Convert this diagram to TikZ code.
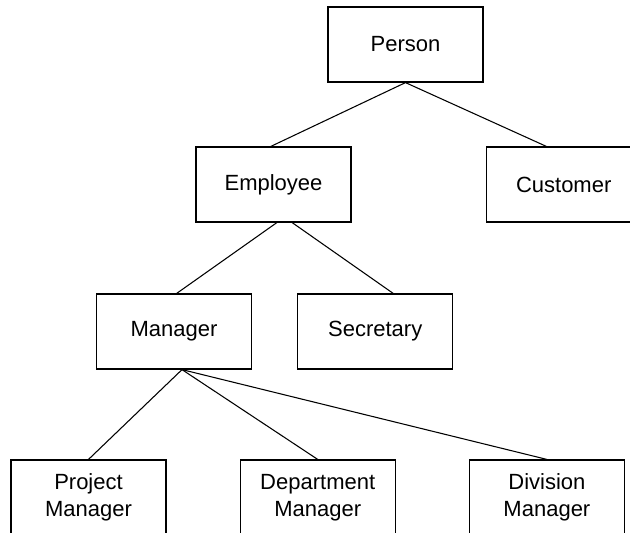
\documentclass[tikz,border=0pt]{standalone}
\usepackage{fontspec}
\setmainfont{Liberation Sans}
\usetikzlibrary{positioning}
\tikzset{
  cls/.style={draw, line width=0.9pt, minimum width=116.25pt, minimum height=56.25pt,
              inner sep=0pt, align=center, font=\fontsize{16.5}{20}\selectfont},
  link/.style={line width=0.8pt},
}
\begin{document}
\begin{tikzpicture}[x=0.75pt,y=-0.75pt, node distance=54.75pt]
\useasboundingbox (0,0) rectangle (630,532);

% ---- root ----
\node[cls] (person) at (405.5,44.5) {Person};

% ---- second level ----
\node[cls] (employee) at (273.5,184.5) {Employee};
\node[cls, right=100.5pt of employee] (customer) {Customer};

% ---- third level ----
\node[cls] (manager) at (174,331.5) {Manager};
\node[cls, right=33.75pt of manager] (secretary) {Secretary};

% ---- managers ----
\node[cls] (projmgr) at (88.5,497.5) {Project\\Manager};
\node[cls, right=of projmgr] (deptmgr) {Department\\Manager};
\node[cls, right=of deptmgr] (divmgr) {Division\\Manager};

\draw[link] (person.south) -- ([xshift=-2pt]employee.north);
\draw[link] (person.south) -- ([xshift=-13pt]customer.north);
\draw[link] ([xshift=2.5pt]employee.south) -- ([xshift=2pt]manager.north);
\draw[link] ([xshift=14pt]employee.south) -- ([xshift=13.5pt]secretary.north);
\draw[link] ([xshift=6pt]manager.south) -- (projmgr.north);
\draw[link] ([xshift=6pt]manager.south) -- (deptmgr.north);
\draw[link] ([xshift=6pt]manager.south) -- (divmgr.north);

\end{tikzpicture}
\end{document}
